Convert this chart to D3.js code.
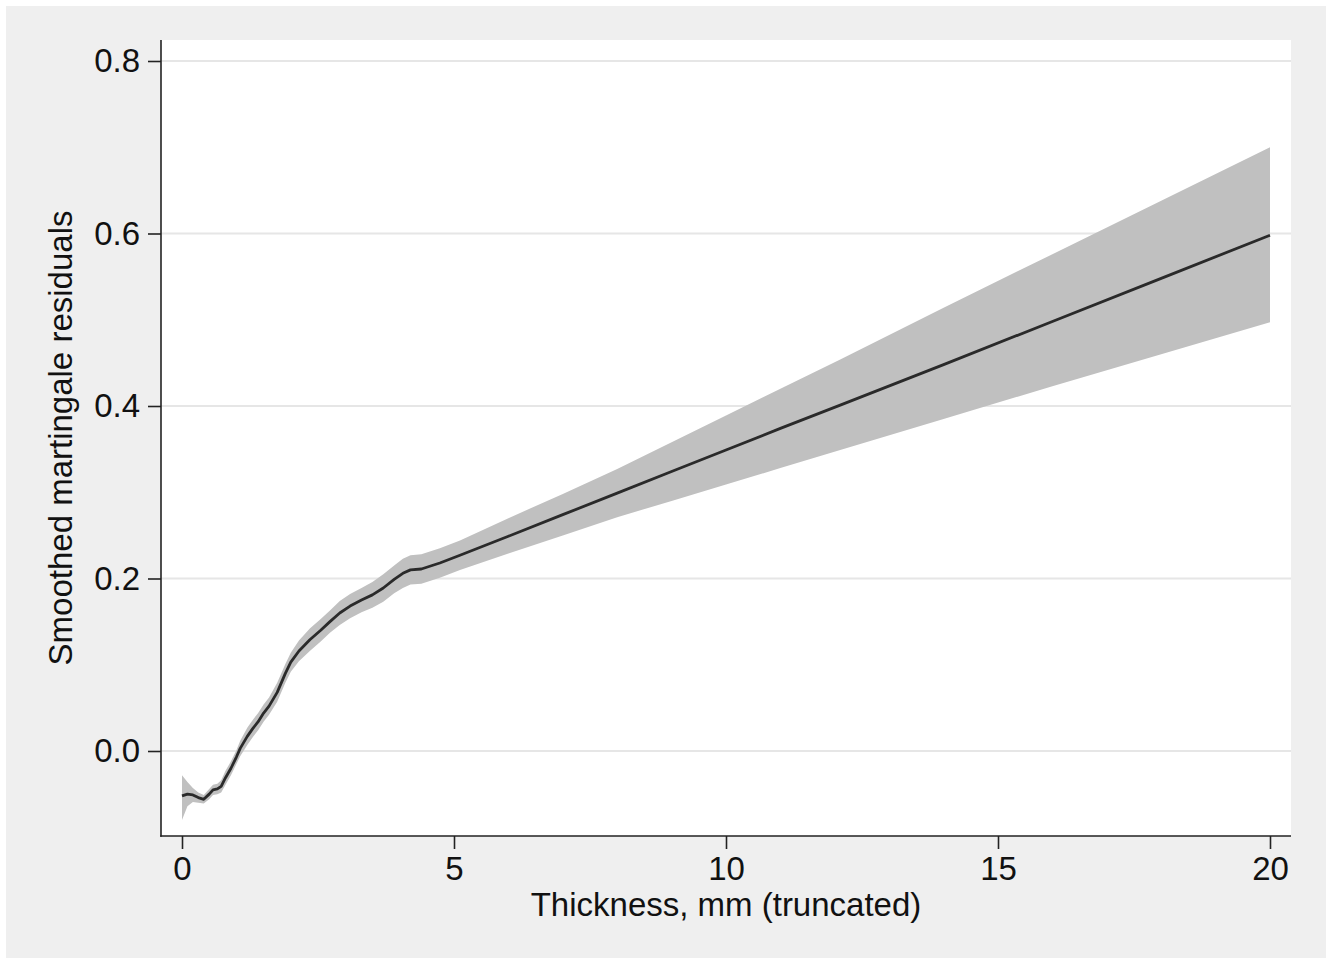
<!DOCTYPE html>
<html>
<head>
<meta charset="utf-8">
<script src="https://cdn.jsdelivr.net/npm/d3@7"></script>
<style>
  html, body { margin: 0; padding: 0; background: #ffffff; }
  svg { display: block; }
  text { font-family: "Liberation Sans", Arial, Helvetica, sans-serif; fill: #111; }
</style>
</head>
<body>
<svg id="chart" width="1334" height="964"></svg>
<script>
// ---- data ----
const thickness = [0.00,0.10,0.20,0.30,0.40,0.50,0.57,0.65,0.72,0.80,0.90,1.00,1.07,1.20,1.30,1.40,1.50,1.60,1.75,1.90,2.00,2.15,2.35,2.55,2.72,2.90,3.09,3.30,3.50,3.70,3.90,4.06,4.20,4.40,4.74,5.11,6.00,7.00,8.00,9.00,10.00,11.00,12.10,14.00,16.00,18.00,20.00];
const residual  = [-0.052,-0.050,-0.051,-0.054,-0.056,-0.050,-0.045,-0.044,-0.041,-0.031,-0.020,-0.007,0.003,0.017,0.026,0.034,0.044,0.052,0.068,0.090,0.103,0.116,0.129,0.140,0.150,0.160,0.168,0.175,0.181,0.189,0.199,0.206,0.210,0.211,0.218,0.227,0.249,0.274,0.299,0.324,0.349,0.374,0.401,0.448,0.498,0.548,0.598];
const lowerCI   = [-0.080,-0.064,-0.059,-0.060,-0.061,-0.056,-0.051,-0.050,-0.048,-0.039,-0.028,-0.015,-0.006,0.007,0.016,0.024,0.034,0.042,0.057,0.079,0.092,0.104,0.116,0.127,0.137,0.146,0.154,0.161,0.166,0.173,0.183,0.189,0.193,0.194,0.201,0.210,0.229,0.250,0.271,0.290,0.309,0.328,0.349,0.385,0.423,0.460,0.497];
const upperCI   = [-0.028,-0.036,-0.043,-0.048,-0.051,-0.044,-0.039,-0.038,-0.034,-0.023,-0.012,0.001,0.012,0.027,0.036,0.044,0.054,0.062,0.079,0.101,0.114,0.128,0.142,0.153,0.163,0.174,0.182,0.189,0.196,0.205,0.215,0.223,0.227,0.228,0.235,0.244,0.270,0.298,0.327,0.358,0.389,0.420,0.454,0.514,0.576,0.638,0.700];
const xTicks = [0, 5, 10, 15, 20];
const yTicks = [0.0, 0.2, 0.4, 0.6, 0.8];
const xTitle = "Thickness, mm (truncated)";
const yTitle = "Smoothed martingale residuals";

const data = thickness.map((t, i) => ({ x: t, y: residual[i], lo: lowerCI[i], hi: upperCI[i] }));

const svg = d3.select("#chart");

// layout
const outer = { x: 6, y: 6, w: 1320, h: 952 };
const plot = { left: 161, right: 1291, top: 40, bottom: 836 };

const x = d3.scaleLinear().domain([0, 20]).range([182, 1270]);
const y = d3.scaleLinear().domain([0, 0.8]).range([751, 61]);

// backgrounds
svg.append("rect").attr("x", outer.x).attr("y", outer.y).attr("width", outer.w).attr("height", outer.h).attr("fill", "#efefef");
svg.append("rect").attr("x", plot.left).attr("y", plot.top)
  .attr("width", plot.right - plot.left).attr("height", plot.bottom - plot.top).attr("fill", "#ffffff");

// gridlines
svg.append("g").selectAll("line").data(yTicks).join("line")
  .attr("x1", plot.left).attr("x2", plot.right)
  .attr("y1", d => y(d)).attr("y2", d => y(d))
  .attr("stroke", "#e6e6e6").attr("stroke-width", 2);

// CI band
svg.append("path").datum(data)
  .attr("fill", "#c0c0c0")
  .attr("d", d3.area().x(d => x(d.x)).y0(d => y(d.lo)).y1(d => y(d.hi)).curve(d3.curveLinear));

// smoothed line
svg.append("path").datum(data)
  .attr("fill", "none").attr("stroke", "#2a2a2a").attr("stroke-width", 2.8)
  .attr("stroke-linejoin", "round")
  .attr("d", d3.line().x(d => x(d.x)).y(d => y(d.y)).curve(d3.curveLinear));

// axes
const yAxis = svg.append("g").attr("transform", `translate(${plot.left},0)`)
  .call(d3.axisLeft(y).tickValues(yTicks).tickFormat(d3.format(".1f")).tickSize(13).tickPadding(8));
const xAxis = svg.append("g").attr("transform", `translate(0,${plot.bottom})`)
  .call(d3.axisBottom(x).tickValues(xTicks).tickFormat(d3.format("d")).tickSize(13).tickPadding(8));

[yAxis, xAxis].forEach(g => {
  g.select(".domain").remove();
  g.selectAll(".tick line").attr("stroke", "#222").attr("stroke-width", 1.6);
  g.selectAll(".tick text").attr("font-size", 33).attr("fill", "#111")
    .style("font-family", "'Liberation Sans', Arial, Helvetica, sans-serif");
});

// axis lines
svg.append("line").attr("x1", plot.left).attr("x2", plot.left).attr("y1", plot.top).attr("y2", plot.bottom + 0.8)
  .attr("stroke", "#222").attr("stroke-width", 1.6);
svg.append("line").attr("x1", plot.left - 0.8).attr("x2", plot.right).attr("y1", plot.bottom).attr("y2", plot.bottom)
  .attr("stroke", "#222").attr("stroke-width", 1.6);

// titles
svg.append("text").attr("x", (plot.left + plot.right) / 2).attr("y", 916)
  .attr("text-anchor", "middle").attr("font-size", 33).text(xTitle);
svg.append("text").attr("transform", `translate(72,${(plot.top + plot.bottom) / 2}) rotate(-90)`)
  .attr("text-anchor", "middle").attr("font-size", 33).text(yTitle);
</script>
</body>
</html>
